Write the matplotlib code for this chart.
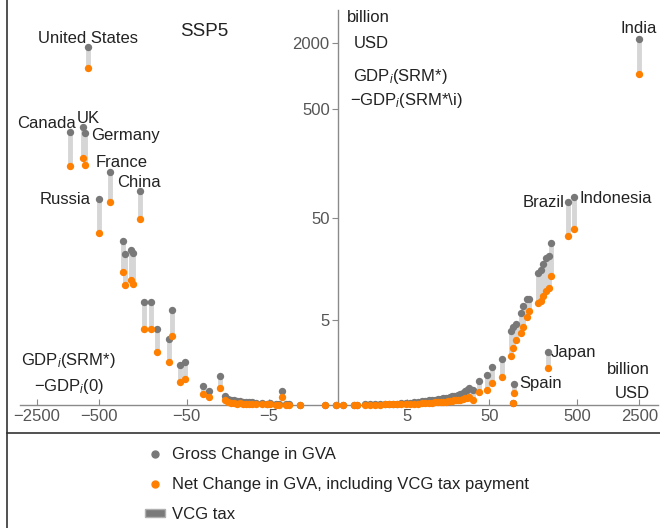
import numpy as np
import matplotlib
matplotlib.use('Agg')
import matplotlib.pyplot as plt
from matplotlib.lines import Line2D
from matplotlib.patches import Patch
from matplotlib.ticker import NullLocator

plt.rcParams['font.family'] = ['Liberation Sans', 'DejaVu Sans']
plt.rcParams['mathtext.fontset'] = 'custom'
plt.rcParams['mathtext.rm'] = 'Liberation Sans'
plt.rcParams['mathtext.it'] = 'Liberation Sans:italic'

# ---------------- data (billion USD) ----------------
# labelled countries
named_countries = ['United States', 'Canada', 'UK', 'Germany', 'France', 'China',
                   'Russia', 'India', 'Brazil', 'Indonesia', 'Japan', 'Spain']
named_dgdp0 = [-659, -1054, -745, -722, -373, -171, -496, 2482, 392, 459, 233, 96]
named_gross = [1845, 309, 343, 303, 133, 89, 75, 2185, 70, 78, 2.05, 0.55]
named_net = [1188, 151, 179, 154, 70, 49, 36, 1047, 34, 39, 1.18, 0.29]

# other countries, negative side
neg_dgdp0 = [-262, -255, -215, -204, -153, -128, -109, -74, -80, -59.6, -52.2,
             -32.3, -27.5, -20.4, -3.28,
             -17.8, -16.4, -15.1, -13.9, -12.8, -11.7, -10.8, -9.9, -9.1, -8.3,
             -7.4, -6.2, -5.3, -4.8, -4.0, -3.6, -2.9, -2.6, -1.68, -0.40, -0.05]
neg_gross = [30.4, 22.9, 24.9, 23.4, 7.7, 7.7, 3.94, 6.36, 3.0, 1.32, 1.47,
             0.49, 0.34, 0.84, 0.34,
             0.21, 0.14, 0.11, 0.10, 0.08, 0.09, 0.07, 0.06, 0.07, 0.07,
             0.04, 0.04, 0.03, 0.04, 0.02, 0.02, 0.02, 0.02, 0.01, 0.005, 0.002]
neg_net = [15.3, 11.4, 12.8, 11.7, 3.94, 3.94, 2.05, 3.26, 1.47, 0.62, 0.73,
           0.26, 0.18, 0.43, 0.18,
           0.11, 0.06, 0.05, 0.04, 0.03, 0.04, 0.03, 0.02, 0.03, 0.03,
           0.02, 0.015, 0.015, 0.02, 0.01, 0.01, 0.01, 0.01, 0.005, 0.002, 0.001]

# other countries, positive side
pos_dgdp0 = [0.14, 0.5, 0.64, 1.0, 1.3, 1.6, 2.0, 2.4, 2.8, 3.2, 3.6,
             4.2, 4.8, 5.5, 6.2, 7.0, 7.8, 8.6, 9.5, 10.5, 11.5, 12.5, 13.5,
             14.5, 15.5, 16.5, 17.5, 18.5, 19.5, 20.5, 21.5, 23, 24.5, 26, 27.5, 29,
             32.3, 37.9, 46.9, 53.6, 69.8, 93, 88.5, 93.5, 101, 115, 121, 135, 142,
             179, 194, 204, 221, 239, 252]
pos_gross = [0.005, 0.008, 0.01, 0.012, 0.015, 0.018, 0.02, 0.022, 0.025, 0.028, 0.03,
             0.04, 0.045, 0.05, 0.06, 0.07, 0.08, 0.09, 0.10, 0.11, 0.12, 0.13, 0.14,
             0.15, 0.16, 0.17, 0.18, 0.20, 0.21, 0.22, 0.24, 0.26, 0.29, 0.33, 0.37, 0.42,
             0.37, 0.66, 0.88, 1.22, 1.63, 0.05, 3.73, 4.15, 4.48, 5.9, 7.0, 8.3, 8.3,
             15.0, 16.1, 18.3, 20.9, 21.9, 29.1]
pos_net = [0.003, 0.004, 0.005, 0.006, 0.007, 0.008, 0.01, 0.011, 0.012, 0.013, 0.015,
           0.02, 0.02, 0.025, 0.03, 0.03, 0.035, 0.04, 0.045, 0.05, 0.055, 0.06, 0.065,
           0.07, 0.075, 0.08, 0.085, 0.09, 0.10, 0.10, 0.11, 0.12, 0.13, 0.15, 0.17, 0.19,
           0.11, 0.31, 0.37, 0.59, 0.80, 0.04, 1.80, 2.31, 2.92, 3.54, 4.15, 5.35, 6.2,
           7.5, 7.9, 8.9, 10.0, 10.7, 14.0]

x_ticks = [-2500, -500, -50, -5, 5, 50, 500, 2500]
x_ticklabels = ['\u22122500', '\u2212500', '\u221250', '\u22125', '5', '50', '500', '2500']
y_ticks = [5, 50, 500, 2000]
y_ticklabels = ['5', '50', '500', '2000']

legend_labels = ['Gross Change in GVA',
                 'Net Change in GVA, including VCG tax payment',
                 'VCG tax']

# label offsets in pixels (dx, dy, ha)
label_pos = {
    'United States': (0, 4, 'center'),
    'India': (0, 6, 'center'),
    'Canada': (6, 4, 'right'),
    'UK': (-7, 4, 'left'),
    'Germany': (7, -7, 'left'),
    'France': (-14, 5, 'left'),
    'China': (-1, 4, 'center'),
    'Russia': (-8, -5, 'right'),
    'Brazil': (-3, -5, 'right'),
    'Indonesia': (5, -6, 'left'),
    'Japan': (3, -5, 'left'),
    'Spain': (5, -4, 'left'),
}

GRAY = '#787878'
ORANGE = '#ff7f00'
BAR = '#d6d6d6'
AXC = '#8a8a8a'
TXT = '#222222'


def fwd(v):
    v = np.asarray(v, dtype=float)
    return np.sign(v) * np.log1p(np.abs(v))


def inv(v):
    v = np.asarray(v, dtype=float)
    return np.sign(v) * np.expm1(np.abs(v))


x_all = np.array(named_dgdp0 + neg_dgdp0 + pos_dgdp0, dtype=float)
g_all = np.array(named_gross + neg_gross + pos_gross, dtype=float)
n_all = np.array(named_net + neg_net + pos_net, dtype=float)

fig = plt.figure(figsize=(6.6, 5.28), dpi=100)
ax = fig.add_axes([20 / 660, 123 / 528, 638 / 660, 395 / 528])
ax.set_xscale('function', functions=(fwd, inv))
ax.set_yscale('function', functions=(fwd, inv))
ax.set_xlim(-3866, 4075)
ax.set_ylim(0, 4017)

ax.vlines(x_all, n_all, g_all, colors=BAR, linewidth=3.5, zorder=2)
ax.scatter(x_all, g_all, s=28, color=GRAY, linewidths=0, zorder=3, clip_on=False)
ax.scatter(x_all, n_all, s=28, color=ORANGE, linewidths=0, zorder=4, clip_on=False)

for name, xv, gv in zip(named_countries, named_dgdp0, named_gross):
    dx, dy, ha = label_pos[name]
    ax.annotate(name, (xv, gv), xytext=(dx, dy), textcoords='offset pixels',
                ha=ha, va='baseline', fontsize=12, color=TXT)

for s in ['top', 'right']:
    ax.spines[s].set_visible(False)
ax.spines['left'].set_position(('data', 0))
for s in ['left', 'bottom']:
    ax.spines[s].set_color(AXC)
    ax.spines[s].set_linewidth(1.0)
ax.spines['left'].set_zorder(1)
ax.spines['bottom'].set_zorder(1)

ax.set_xticks(x_ticks)
ax.set_xticklabels(x_ticklabels)
ax.set_yticks(y_ticks)
ax.set_yticklabels(y_ticklabels)
ax.xaxis.set_minor_locator(NullLocator())
ax.yaxis.set_minor_locator(NullLocator())
ax.tick_params(axis='x', direction='in', length=4, color=AXC, labelcolor='#555555',
               labelsize=12, pad=3)
ax.tick_params(axis='y', direction='out', length=4, color=AXC, labelcolor='#555555',
               labelsize=12, pad=2)
ax.patch.set_alpha(0)

def ftext(px, py, s, **kw):
    fig.text(px / 660, 1 - py / 528, s, va='center', ha='left', color=TXT, **kw)

ftext(180, 32, 'SSP5', fontsize=13.5)
ftext(347, 17, 'billion', fontsize=12)
ftext(354, 43, 'USD', fontsize=12)
ftext(353, 77, r'GDP$_i$(SRM*)', fontsize=12)
ftext(350, 100, r'$-$GDP$_i$(SRM*\i)', fontsize=12)
ftext(21, 360, r'GDP$_i$(SRM*)', fontsize=12)
ftext(34, 386, r'$-$GDP$_i$(0)', fontsize=12)
ftext(607, 369, 'billion', fontsize=12)
ftext(615, 393, 'USD', fontsize=12)

# frame lines
fig.add_artist(Line2D([7 / 660, 7 / 660], [0, 1], color='#333333', lw=1.2))
fig.add_artist(Line2D([7 / 660, 1], [1 - 433 / 528, 1 - 433 / 528], color='#333333', lw=1.2))

handles = [Line2D([], [], marker='o', color=GRAY, linestyle='None', markersize=5),
           Line2D([], [], marker='o', color=ORANGE, linestyle='None', markersize=5),
           Patch(facecolor='#7a7a7a', edgecolor='#b0b0b0', linewidth=1)]
fig.legend(handles, legend_labels, loc='upper left',
           bbox_to_anchor=(145 / 660, 1 - 447 / 528), frameon=False, fontsize=12,
           handlelength=1.2, handleheight=0.35, handletextpad=0.45, labelspacing=0.9,
           borderpad=0, borderaxespad=0, labelcolor=TXT)

fig.savefig('out.png', dpi=100)
